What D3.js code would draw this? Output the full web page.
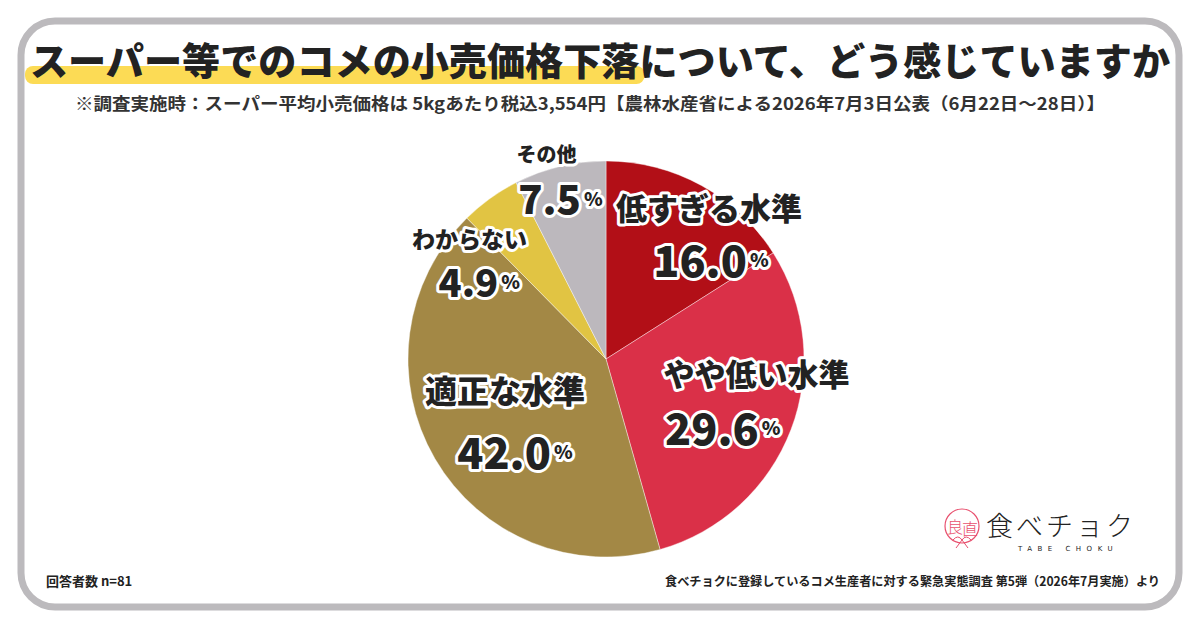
<!DOCTYPE html>
<html>
<head>
<meta charset="utf-8">
<script src="https://cdn.jsdelivr.net/npm/d3@7"></script>
<style>
  html, body { margin: 0; padding: 0; background: #fff; }
  svg { display: block; font-family: "Noto Sans CJK JP", "Noto Sans", sans-serif; }
</style>
</head>
<body>
<div id="chart"></div>
<script>
const categories = ["低すぎる水準", "やや低い水準", "適正な水準", "わからない", "その他"];
const values = [16.0, 29.6, 42.0, 4.9, 7.5];
const colors = ["#b20f17", "#da3048", "#a38845", "#e1c443", "#bcb8bd"];

const title = "スーパー等でのコメの小売価格下落について、どう感じていますか";
const highlightChars = 16;
const subtitle = "※調査実施時：スーパー平均小売価格は 5kgあたり税込3,554円【農林水産省による2026年7月3日公表（6月22日～28日）】";
const sampleNote = "回答者数 n=81";
const sourceNote = "食べチョクに登録しているコメ生産者に対する緊急実態調査 第5弾（2026年7月実施）より";

// label layout: offsets from pie centre as fraction of radius, font sizes
const labelLayout = [
  { nx: 0.52, ny: -0.77, px: 0.53, py: -0.51, nameSize: 31, numSize: 43 },
  { nx: 0.76, ny: 0.07, px: 0.59, py: 0.34, nameSize: 31, numSize: 43 },
  { nx: -0.51, ny: 0.15, px: -0.46, py: 0.46, nameSize: 32, numSize: 43 },
  { nx: -0.69, ny: -0.61, px: -0.64, py: -0.40, nameSize: 23, numSize: 38 },
  { nx: -0.30, ny: -1.04, px: -0.23, py: -0.82, nameSize: 20, numSize: 40 },
];

const W = 1200, H = 630;
const svg = d3.select("#chart").append("svg")
  .attr("width", W).attr("height", H);

// card
svg.append("rect")
  .attr("x", 21).attr("y", 21)
  .attr("width", 1158).attr("height", 586)
  .attr("rx", 34)
  .attr("fill", "#fff")
  .attr("stroke", "#bcbabd")
  .attr("stroke-width", 7);

// title with highlight
const highlight = svg.append("rect")
  .attr("fill", "#fcdb55")
  .attr("rx", 8);

const titleText = svg.append("text")
  .attr("x", 600).attr("y", 75)
  .attr("text-anchor", "middle")
  .attr("font-size", 38)
  .attr("font-weight", 900)
  .attr("fill", "#222")
  .attr("textLength", 1140)
  .attr("lengthAdjust", "spacingAndGlyphs")
  .text(title);

const tNode = titleText.node();
const start = tNode.getStartPositionOfChar(0);
const endPos = tNode.getEndPositionOfChar(highlightChars - 1);
highlight
  .attr("x", start.x - 5)
  .attr("y", 66)
  .attr("width", endPos.x - start.x + 10)
  .attr("height", 18);

svg.append("text")
  .attr("x", 590).attr("y", 110)
  .attr("text-anchor", "middle")
  .attr("font-size", 17)
  .attr("font-weight", 700)
  .attr("fill", "#333")
  .attr("textLength", 1030)
  .attr("lengthAdjust", "spacingAndGlyphs")
  .text(subtitle);

// pie
const cx = 606, cy = 359, radius = 198;
const pie = d3.pie().sort(null).value((d) => d.value);
const arc = d3.arc().innerRadius(0).outerRadius(radius);
const data = categories.map((c, i) => ({ name: c, value: values[i], color: colors[i], layout: labelLayout[i] }));

const g = svg.append("g").attr("transform", `translate(${cx}, ${cy})`);

g.selectAll("path")
  .data(pie(data))
  .enter()
  .append("path")
  .attr("d", arc)
  .attr("fill", (d) => d.data.color)
  .attr("stroke", "#fff")
  .attr("stroke-opacity", 0.5)
  .attr("stroke-width", 0.8);

const labels = g.selectAll(".label")
  .data(pie(data))
  .enter()
  .append("g")
  .attr("class", "label");

labels.append("text")
  .attr("x", (d) => d.data.layout.nx * radius)
  .attr("y", (d) => d.data.layout.ny * radius)
  .attr("text-anchor", "middle")
  .attr("dominant-baseline", "central")
  .attr("font-size", (d) => d.data.layout.nameSize)
  .attr("font-weight", 900)
  .attr("fill", "#222")
  .attr("stroke", "#fff")
  .attr("stroke-width", 6)
  .attr("stroke-linejoin", "round")
  .attr("paint-order", "stroke")
  .text((d) => d.data.name);

const pct = labels.append("text")
  .attr("x", (d) => d.data.layout.px * radius)
  .attr("y", (d) => d.data.layout.py * radius)
  .attr("text-anchor", "middle")
  .attr("dominant-baseline", "central")
  .attr("font-weight", 900)
  .attr("fill", "#222")
  .attr("stroke", "#fff")
  .attr("stroke-width", 6)
  .attr("stroke-linejoin", "round")
  .attr("paint-order", "stroke");

pct.append("tspan")
  .attr("font-size", (d) => d.data.layout.numSize)
  .text((d) => d.data.value.toFixed(1));
pct.append("tspan")
  .attr("font-size", 19)
  .attr("dx", 3)
  .text("%");

// logo
const logo = svg.append("g").attr("transform", "translate(962, 526)");
logo.append("circle")
  .attr("r", 17)
  .attr("fill", "none")
  .attr("stroke", "#e8506e")
  .attr("stroke-width", 1.2);
logo.append("path")
  .attr("d", "M-9,14 q5,-6 9,0 q4,-6 9,0 M0,14 l-6,8 M0,14 l6,8")
  .attr("fill", "none")
  .attr("stroke", "#e8506e")
  .attr("stroke-width", 1);
logo.append("text")
  .attr("x", -7).attr("y", 0)
  .attr("text-anchor", "middle")
  .attr("dominant-baseline", "central")
  .attr("font-size", 16)
  .attr("font-weight", 300)
  .attr("fill", "#e8506e")
  .text("良");
logo.append("text")
  .attr("x", 8).attr("y", 2)
  .attr("text-anchor", "middle")
  .attr("dominant-baseline", "central")
  .attr("font-size", 16)
  .attr("font-weight", 300)
  .attr("fill", "#e8506e")
  .text("直");
logo.append("text")
  .attr("x", 24).attr("y", -2)
  .attr("dominant-baseline", "central")
  .attr("font-size", 27)
  .attr("font-weight", 300)
  .attr("fill", "#222")
  .attr("letter-spacing", 3)
  .text("食べチョク");
logo.append("text")
  .attr("x", 56).attr("y", 23)
  .attr("dominant-baseline", "central")
  .attr("font-size", 7)
  .attr("font-family", "DejaVu Sans, sans-serif")
  .attr("fill", "#222")
  .attr("letter-spacing", 5.5)
  .text("TABE CHOKU");

// footer
svg.append("text")
  .attr("x", 46).attr("y", 586)
  .attr("font-size", 13)
  .attr("font-weight", 700)
  .attr("fill", "#222")
  .text(sampleNote);

svg.append("text")
  .attr("x", 1160).attr("y", 586)
  .attr("text-anchor", "end")
  .attr("font-size", 12.5)
  .attr("font-weight", 700)
  .attr("fill", "#222")
  .attr("textLength", 495)
  .attr("lengthAdjust", "spacingAndGlyphs")
  .text(sourceNote);
</script>
</body>
</html>
